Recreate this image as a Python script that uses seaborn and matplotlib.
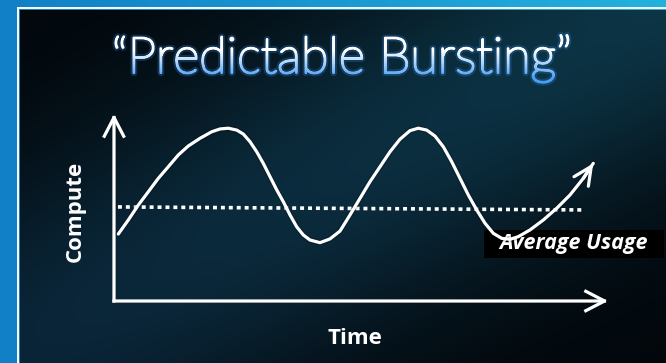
import numpy as np
import matplotlib
matplotlib.use("Agg")
import matplotlib.pyplot as plt
import matplotlib.patheffects as pe
from matplotlib.patches import Rectangle
from matplotlib.transforms import Bbox, TransformedBbox
import seaborn as sns

# ---- data -------------------------------------------------------------
time = [0.087, 0.289, 0.492, 0.694, 0.897, 1.099, 1.302, 1.504, 1.741,
        1.978, 2.146, 2.314, 2.484, 2.617, 2.753, 2.889, 3.022, 3.158,
        3.294, 3.427, 3.563, 3.698, 3.832, 3.968, 4.170, 4.372, 4.575,
        4.777, 4.980, 5.182, 5.385, 5.587, 5.789, 5.992, 6.160, 6.330,
        6.498, 6.666, 6.836, 7.004, 7.172, 7.342, 7.510, 7.678, 7.848,
        8.016, 8.184, 8.421, 8.690, 8.962, 9.231, 9.500, 9.702]
compute = [3.58, 4.33, 5.13, 5.84, 6.56, 7.18, 7.81, 8.29, 8.70,
           9.05, 9.20, 9.24, 9.14, 8.93, 8.52, 7.98, 7.36, 6.65,
           5.94, 5.31, 4.60, 3.97, 3.53, 3.26, 3.12, 3.32, 3.74,
           4.60, 5.49, 6.38, 7.18, 7.98, 8.65, 9.11, 9.24, 9.14,
           8.82, 8.25, 7.45, 6.56, 5.67, 4.87, 4.16, 3.62, 3.35,
           3.30, 3.44, 3.80, 4.33, 4.96, 5.67, 6.56, 7.36]
avg_time = [0.08, 9.49]
avg_compute = [5.03, 4.87]

title = "\u201cPredictable Bursting\u201d"
x_label = "Time"
y_label = "Compute"
avg_label = "Average Usage"

# ---- figure -----------------------------------------------------------
W, H, DPI = 666, 363, 100
sns.set_theme(style="white")
plt.rcParams["font.family"] = ["Open Sans", "DejaVu Sans"]
fig = plt.figure(figsize=(W / DPI, H / DPI), dpi=DPI)


def hexrgb(h):
    h = h.lstrip("#")
    return np.array([int(h[i:i + 2], 16) / 255 for i in (0, 2, 4)])


# background: blue slide frame with a dark teal panel
yy, xx = np.mgrid[0:H, 0:W].astype(float)
f = np.clip(xx / W - 0.3 * yy / H, 0, 1)[..., None]
img = hexrgb("#1180c6") * (1 - f) + hexrgb("#22b2de") * f
s = (xx / W + yy / H) / 2
b = np.exp(-((s - 0.5) / 0.25) ** 2)[..., None]
u = np.clip((xx / W - yy / H + 1) / 2, 0, 1)[..., None]
mid = hexrgb("#0a2437") * (1 - u) + hexrgb("#0c3545") * u
panel = hexrgb("#02070b") + b * (mid - hexrgb("#02070b"))
inside = (xx >= 20) & (yy >= 10)
img[inside] = panel[inside]
img[(yy >= 7) & (yy < 9) & (xx >= 17)] = 1.0
img[(xx >= 17) & (xx < 19) & (yy >= 7)] = 1.0
bg = fig.add_axes([0, 0, 1, 1], zorder=-5)
bg.imshow(img, aspect="auto", interpolation="bilinear")
bg.set_axis_off()

# plotting area (origin of the arrows)
ax = fig.add_axes([114 / W, 62 / H, 494 / W, 187 / H])
ax.set_xlim(0, 10)
ax.set_ylim(0, 10)
ax.set_axis_off()
ax.patch.set_alpha(0)

px = 100 / 72
line_w = 3.2 / px

# axis arrows
for end in [(0, 10), (10, 0)]:
    ax.annotate("", xy=end, xytext=(0, 0), xycoords="data",
                arrowprops=dict(arrowstyle="->,head_length=1.35,head_width=0.7",
                                color="white", lw=line_w, shrinkA=0, shrinkB=0,
                                mutation_scale=10, capstyle="projecting"),
                annotation_clip=False)

# average usage dotted line
sns.lineplot(x=avg_time, y=avg_compute, ax=ax, color="white", lw=3.6 / px,
             linestyle=(0, (1.1, 1.1)), zorder=3, sort=False, estimator=None)

# label with its black box
ax.add_patch(Rectangle((484 / W, 1 - 258 / H), 180 / W, 28 / H, transform=fig.transFigure,
                       facecolor="black", edgecolor="none", zorder=4, clip_on=False))
ax.text(9.31, 3.05, avg_label, color="white", fontsize=15.5, fontweight="bold",
        fontstyle="italic", ha="center", va="center", zorder=4.5)

# usage curve
sns.lineplot(x=time, y=compute, ax=ax, color="white", lw=line_w, zorder=5,
             sort=False, estimator=None, solid_joinstyle="round",
             solid_capstyle="round",
             path_effects=[pe.Stroke(linewidth=line_w + 2, foreground="black", alpha=0.15),
                           pe.Normal()])
ax.annotate("", xy=(time[-1], compute[-1]), xytext=(time[-2], compute[-2]),
            arrowprops=dict(arrowstyle="->,head_length=1.3,head_width=0.62",
                            color="white", lw=line_w, shrinkA=0, shrinkB=0,
                            mutation_scale=10),
            annotation_clip=False, zorder=6)

# axis labels
fig.text(355 / W, 1 - 338 / H, x_label, color="white", fontsize=16,
         fontweight="bold", ha="center", va="center")
fig.text(75 / W, 1 - 211 / H, y_label, color="white", fontsize=16,
         fontweight="bold", ha="center", va="center", rotation=90)

# title: soft blue glow underneath, white-to-blue fill on top
tx, ty = 342 / W, 1 - 73 / H
tkw = dict(ha="center", va="baseline", fontsize=38, fontweight="light",
           family=["Lato", "Open Sans", "DejaVu Sans"])
glow = fig.text(tx, ty, title, color="#3b8ee0", **tkw,
                path_effects=[pe.withStroke(linewidth=4.5, foreground="#2a78d0", alpha=0.3)])
r = fig.canvas.get_renderer()
wpx = glow.get_window_extent(r).width
size = 38 * 460 / wpx
glow.set_fontsize(size)
tkw["fontsize"] = size
top_c, bot_c = hexrgb("#ffffff"), hexrgb("#4a9ef0")
y0, y1 = 28, 90
n = 31
edges = np.linspace(y0, y1, n + 1)
for i in range(n):
    yc = (edges[i] + edges[i + 1]) / 2
    k = np.clip((yc - 50) / 28, 0, 1)
    col = top_c * (1 - k) + bot_c * k
    t = fig.text(tx, ty, title, color=col, **tkw,
                 path_effects=[pe.withStroke(linewidth=1.6, foreground=col)])
    box = Bbox.from_extents(0, 1 - edges[i + 1] / H, 1, 1 - edges[i] / H)
    t.set_clip_box(TransformedBbox(box, fig.transFigure))
    t.set_clip_on(True)

fig.savefig("out.png", dpi=DPI)
